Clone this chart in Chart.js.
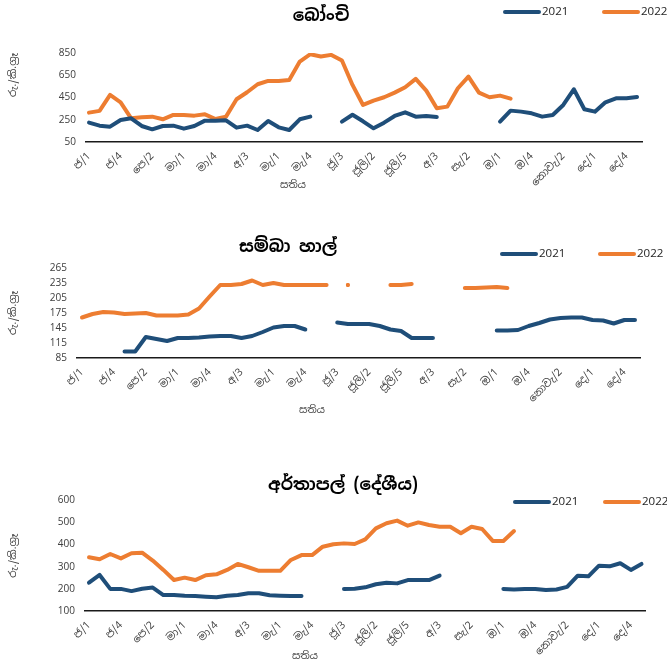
<!DOCTYPE html>
<html>
<head>
<meta charset="utf-8">
<script src="https://cdn.jsdelivr.net/npm/chart.js@4.4.0/dist/chart.umd.min.js"></script>
<style>
	html, body { margin: 0; padding: 0; background: #fff; width: 667px; height: 665px; overflow: hidden; }
	canvas { position: absolute; left: 0; }
</style>
</head>
<body>
<canvas id="beansChart" width="667" height="195" style="top:0px"></canvas>
<canvas id="riceChart" width="667" height="195" style="top:225px"></canvas>
<canvas id="potatoChart" width="667" height="200" style="top:465px"></canvas>
<script>
// Week labels (month/week) - every 3rd one is shown on the axis
const weekLabels = [
	'ජ/1', 'ජ/2', 'ජ/3', 'ජ/4', 'ජ/5',
	'පෙ/1', 'පෙ/2', 'පෙ/3', 'පෙ/4',
	'මා/1', 'මා/2', 'මා/3', 'මා/4',
	'අ/1', 'අ/2', 'අ/3', 'අ/4', 'අ/5',
	'මැ/1', 'මැ/2', 'මැ/3', 'මැ/4',
	'ජූ/1', 'ජූ/2', 'ජූ/3', 'ජූ/4',
	'ජූලි/1', 'ජූලි/2', 'ජූලි/3', 'ජූලි/4', 'ජූලි/5',
	'අ/1', 'අ/2', 'අ/3', 'අ/4',
	'සැ/1', 'සැ/2', 'සැ/3', 'සැ/4',
	'ඔ/1', 'ඔ/2', 'ඔ/3', 'ඔ/4', 'ඔ/5',
	'නොවැ/1', 'නොවැ/2', 'නොවැ/3', 'නොවැ/4',
	'දෙ/1', 'දෙ/2', 'දෙ/3', 'දෙ/4', 'දෙ/5'
];
const seriesNames = ['2021', '2022'];

// Beans (රු./කි.ග්‍රෑ)
const beans2021 = [224, 197, 188, 248, 263, 194, 164, 194, 197, 170, 194, 242, 242, 245, 179, 197, 158, 239, 182, 158,
	254, 278, null, null, 233, 295, 236, 173, 224, 284, 317, 278, 284, 275, null, null, null, null, null,
	233, 332, 323, 308, 278, 293, 383, 524, 344, 323, 407, 443, 443, 455];
const beans2022 = [314, 330, 473, 407, 263, 272, 278, 254, 293, 293, 287, 299, 257, 278, 434, 497, 569, 599, 599, 608,
	773, 839, 818, 833, 782, 563, 383, 422, 452, 494, 542, 617, 512, 353, 368, 533, 638, 494, 452, 467, 440,
	null, null, null, null, null, null, null, null, null, null, null, null];
const beansTicks = [50, 250, 450, 650, 850];

// Samba rice
const rice2021 = [null, null, null, null, 98, 98, 127, 123, 119, 125, 125, 126, 128, 129, 129, 125, 129, 137, 146, 149,
	149, 142, null, null, 156, 153, 153, 153, 149, 142, 139, 125, 125, 125, null, null, null, null, null,
	140, 140, 141, 149, 155, 162, 165, 166, 166, 161, 160, 154, 161, 161];
const rice2022 = [166, 173, 177, 176, 173, 174, 175, 170, 170, 170, 172, 184, 208, 231, 231, 233, 240, 231, 235, 231,
	231, 231, 231, 231, null, 231, null, null, null, 231, 231, 233, null, null, null, null, 225, 225, 226, 227, 225,
	null, null, null, null, null, null, null, null, null, null, null, null];
const riceTicks = [85, 115, 145, 175, 205, 235, 265];

// Potato (local)
const potato2021 = [228, 263, 200, 200, 190, 201, 206, 172, 172, 169, 168, 165, 162, 169, 172, 180, 180, 171, 169, 168,
	168, null, null, null, 200, 201, 207, 221, 228, 225, 240, 240, 240, 260, null, null, null, null, null,
	200, 197, 200, 200, 195, 197, 209, 260, 257, 305, 302, 316, 286, 313];
const potato2022 = [343, 334, 358, 338, 361, 364, 328, 286, 240, 251, 240, 262, 266, 286, 313, 298, 282, 282, 282, 331,
	353, 353, 391, 402, 406, 403, 424, 474, 497, 509, 486, 501, 489, 481, 481, 452, 481, 471, 417, 417, 462,
	null, null, null, null, null, null, null, null, null, null, null, null];
const potatoTicks = [100, 200, 300, 400, 500, 600];

const BLUE = '#1F4E79';
const ORANGE = '#ED7D31';
const FONT = "'Noto Sans Sinhala', 'Iskoola Pota', 'Noto Sans', sans-serif";
const Y_TITLE = 'රු./කි.ග්‍රෑ';
const X_TITLE = 'සතිය';

Chart.defaults.font.family = FONT;

// Draw title, legend and x title at fixed spots (like the Excel layout)
const panelText = {
	id: 'panelText',
	afterDraw(chart, args, o) {
		const ctx = chart.ctx;
		ctx.save();
		ctx.textBaseline = 'middle';
		// title
		ctx.fillStyle = '#000';
		ctx.textAlign = 'center';
		ctx.font = 'bold 17px ' + FONT;
		ctx.fillText(o.title, o.titleX, o.titleY);
		// legend
		chart.data.datasets.forEach((ds, k) => {
			const x = o.legendX[k];
			ctx.strokeStyle = ds.borderColor;
			ctx.lineWidth = 4;
			ctx.lineCap = 'round';
			ctx.beginPath();
			ctx.moveTo(x, o.legendY);
			ctx.lineTo(x + 34, o.legendY);
			ctx.stroke();
			ctx.fillStyle = '#262626';
			ctx.textAlign = 'left';
			ctx.font = '11.5px ' + FONT;
			ctx.fillText(ds.label, x + 37, o.legendY);
		});
		// x axis title
		ctx.fillStyle = '#404040';
		ctx.textAlign = 'center';
		ctx.font = '10px ' + FONT;
		ctx.fillText(X_TITLE, o.xTitleX, o.xTitleY);
		ctx.restore();
	}
};

// only single isolated points get a dot
const isolatedRadius = ctx => {
	const d = ctx.dataset.data;
	const i = ctx.dataIndex;
	const has = k => d[k] !== undefined && d[k].y !== null;
	return has(i) && !has(i - 1) && !has(i + 1) ? 2 : 0;
};

function makeChart(id, vals2021, vals2022, yTicks, p) {
	const toPoints = vals => vals.map((v, i) => ({ x: i, y: v }));
	return new Chart(document.getElementById(id), {
		type: 'line',
		data: {
			datasets: [
				{ label: seriesNames[0], data: toPoints(vals2021), borderColor: BLUE, backgroundColor: BLUE },
				{ label: seriesNames[1], data: toPoints(vals2022), borderColor: ORANGE, backgroundColor: ORANGE }
			]
		},
		options: {
			responsive: false,
			animation: false,
			events: [],
			layout: { padding: { top: p.top, right: p.right, left: 0, bottom: 0 } },
			elements: {
				line: { borderWidth: 4, borderJoinStyle: 'round', borderCapStyle: 'round', tension: 0 },
				point: { radius: isolatedRadius, hoverRadius: 0, borderWidth: 0 }
			},
			plugins: {
				legend: { display: false },
				tooltip: { enabled: false },
				panelText: p.text
			},
			scales: {
				x: {
					type: 'linear',
					min: p.xMin,
					max: p.xMax,
					grid: { display: false, drawTicks: false },
					border: { display: true, color: '#1a1a1a', width: 1.5 },
					afterBuildTicks: s => {
						s.ticks = weekLabels.map((w, i) => ({ value: i })).filter(t => t.value % 3 === 0);
					},
					ticks: {
						autoSkip: false,
						minRotation: 45,
						maxRotation: 45,
						padding: 8,
						color: '#404040',
						font: { size: 10.5 },
						callback: v => weekLabels[v]
					},
					afterFit: s => { s.height = p.xAxisH; }
				},
				y: {
					min: yTicks[0],
					max: yTicks[yTicks.length - 1],
					grid: { display: false, drawTicks: false },
					border: { display: false },
					ticks: { stepSize: yTicks[1] - yTicks[0], padding: 10, color: '#404040', font: { size: 10 } },
					title: {
						display: true,
						text: Y_TITLE,
						align: p.yAlign,
						color: '#404040',
						font: { size: 10.5 },
						padding: { top: 7, bottom: 0 }
					},
					afterFit: s => { s.width = p.yAxisW; }
				}
			}
		},
		plugins: [panelText]
	});
}

makeChart('beansChart', beans2021, beans2022, beansTicks, {
	top: 53, right: 25, yAxisW: 86, xAxisH: 53, xMin: -0.285, xMax: 52.47, yAlign: 'end',
	text: { title: 'බෝංචි', titleX: 321, titleY: 16, legendX: [505, 604], legendY: 12, xTitleX: 293, xTitleY: 185 }
});
makeChart('riceChart', rice2021, rice2022, riceTicks, {
	top: 43, right: 27, yAxisW: 77, xAxisH: 62, xMin: -0.47, xMax: 52.47, yAlign: 'center',
	text: { title: 'සම්බා හාල්', titleX: 288, titleY: 22, legendX: [502, 600], legendY: 29, xTitleX: 312, xTitleY: 185 }
});
makeChart('potatoChart', potato2021, potato2022, potatoTicks, {
	top: 35.5, right: 22, yAxisW: 85, xAxisH: 54, xMin: -0.376, xMax: 52.33, yAlign: 'center',
	text: { title: 'අර්තාපල් (දේශීය)', titleX: 343, titleY: 20, legendX: [515, 605], legendY: 37, xTitleX: 305, xTitleY: 191 }
});
</script>
</body>
</html>
